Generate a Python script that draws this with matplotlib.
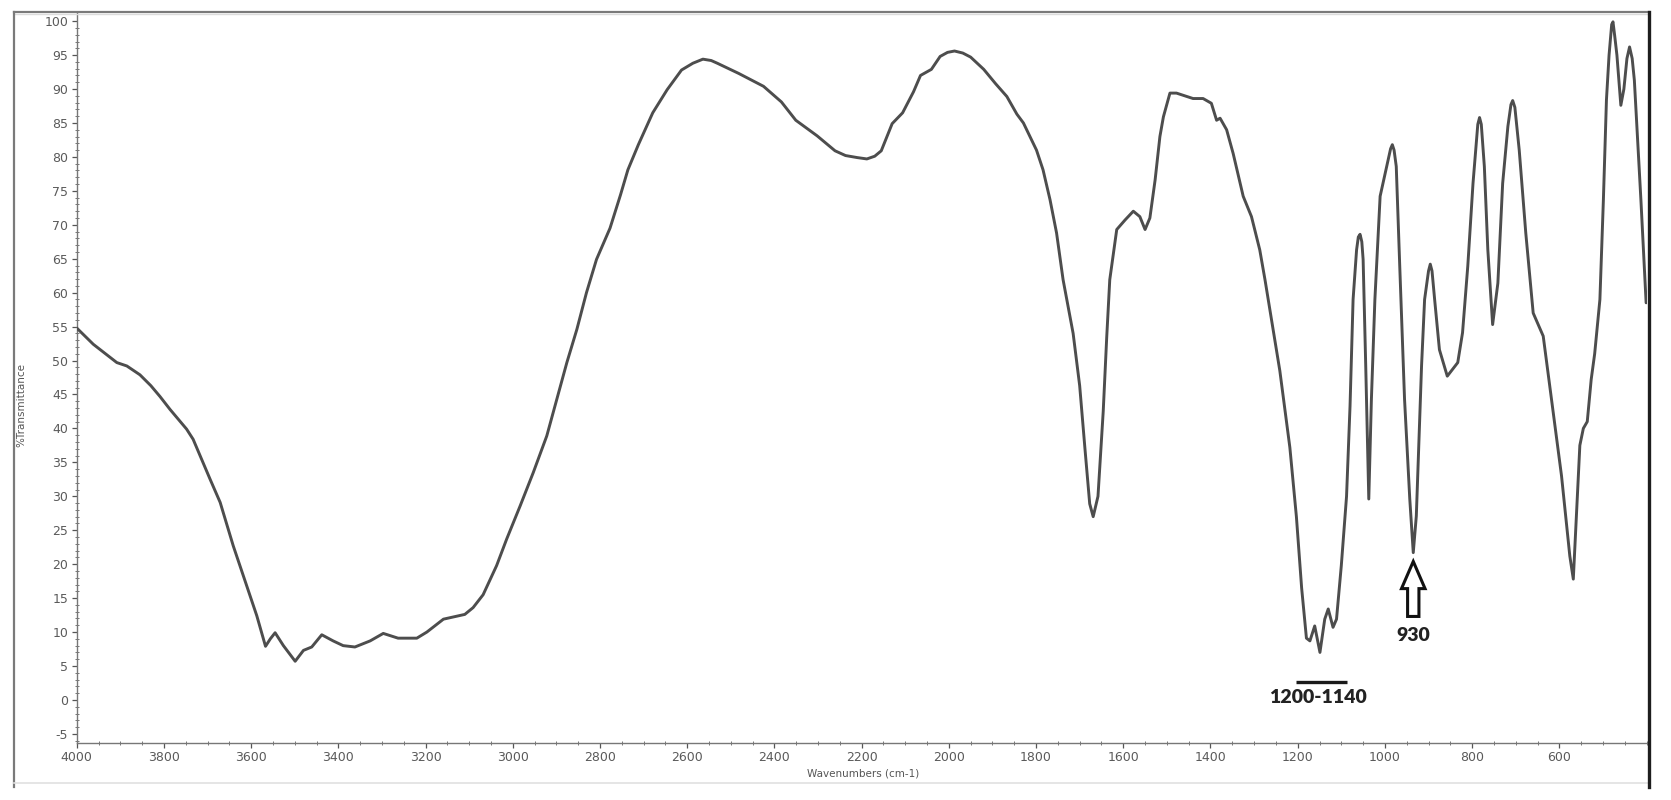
import numpy as np
import matplotlib
matplotlib.use("Agg")
import matplotlib.pyplot as plt
from matplotlib.patches import FancyArrow
from matplotlib.lines import Line2D
from matplotlib.ticker import MultipleLocator

# ---- data ----
wavenumber = [
    4000, 3962, 3908, 3885, 3855, 3830, 3809, 3786, 3748, 3733, 3694, 3671, 3641, 3610,
    3587, 3572, 3567, 3556, 3545, 3526, 3499, 3480, 3461, 3438, 3412, 3389, 3362, 3327, 3297,
    3263, 3220, 3197, 3159, 3110, 3091, 3068, 3037, 3014, 2983, 2953, 2922, 2899, 2876,
    2853, 2831, 2808, 2777, 2753, 2736, 2712, 2679, 2646, 2613, 2587, 2564, 2545, 2531, 2482, 2425,
    2384, 2351, 2302, 2261, 2237, 2210, 2188, 2170, 2155, 2130, 2106, 2081, 2065, 2040, 2020, 2003, 1987,
    1968, 1950, 1920, 1893, 1867, 1844, 1829, 1799, 1784, 1768, 1753, 1738, 1715, 1700, 1688, 1677,
    1669, 1658, 1646, 1638, 1631, 1615, 1596, 1577, 1562, 1550, 1539, 1527, 1516, 1508,
    1493, 1478, 1440, 1417, 1398, 1386, 1378, 1363, 1348, 1325, 1306, 1287, 1275, 1241,
    1218, 1203, 1191, 1180, 1172, 1161, 1149, 1138, 1130, 1119, 1111, 1100, 1088, 1080,
    1073, 1065, 1061, 1057, 1053, 1050, 1044, 1037, 1031, 1023, 1011, 996, 987, 983, 979, 974, 966, 955, 943,
    935, 928, 916, 909, 900, 896, 892, 886, 875, 857, 833, 822, 810, 798, 787, 783, 779, 772, 764, 753, 741,
    730, 718, 711, 707, 702, 692, 677, 660, 637, 614, 595, 576, 568, 561, 553, 545, 536, 527, 519,
    507, 499, 492, 486, 480, 477, 473, 468, 459, 452, 445, 439, 433, 428, 413, 401,
]
transmittance = [
    54.8, 52.4, 49.7, 49.2, 47.9, 46.3, 44.7, 42.8, 39.9, 38.4, 32.5, 29.1, 22.7, 16.8,
    12.4, 9.0, 7.9, 9.0, 9.9, 8.0, 5.7, 7.3, 7.8, 9.6, 8.7, 8.0, 7.8, 8.7, 9.8,
    9.1, 9.1, 10.0, 11.9, 12.6, 13.6, 15.5, 19.8, 23.7, 28.6, 33.5, 38.9, 44.3, 49.7,
    54.6, 60.0, 64.9, 69.5, 74.4, 78.1, 81.8, 86.5, 89.9, 92.8, 93.8, 94.4, 94.2, 93.8, 92.3, 90.4,
    88.1, 85.4, 83.1, 80.9, 80.2, 79.9, 79.7, 80.1, 80.9, 84.9, 86.5, 89.6, 92.0, 92.9, 94.8, 95.4, 95.6,
    95.3, 94.7, 92.9, 90.8, 88.9, 86.3, 85.0, 81.0, 78.1, 73.7, 68.8, 61.9, 54.0, 46.3, 37.1, 28.9,
    27.0, 30.0, 42.5, 53.4, 61.9, 69.3, 70.7, 72.0, 71.2, 69.3, 71.0, 76.6, 83.0, 85.9,
    89.4, 89.4, 88.6, 88.6, 87.9, 85.4, 85.7, 84.0, 80.5, 74.2, 71.2, 66.3, 61.9, 48.5,
    37.2, 27.0, 16.5, 9.1, 8.7, 10.9, 7.0, 11.9, 13.4, 10.7, 11.9, 19.8, 30.0, 43.3,
    59.0, 66.3, 68.2, 68.6, 67.5, 64.9, 49.2, 29.6, 44.3, 59.0, 74.2, 78.6, 81.2, 81.8, 81.0, 78.6, 63.9, 44.3, 29.6,
    21.7, 27.1, 49.2, 59.0, 63.2, 64.2, 63.2, 59.0, 51.6, 47.7, 49.7, 54.1, 63.9, 76.1, 84.8, 85.8, 84.8, 78.6, 66.3, 55.3, 61.4,
    76.1, 84.5, 87.7, 88.3, 87.3, 81.0, 68.8, 57.0, 53.6, 42.3, 33.0, 21.2, 17.8, 27.0, 37.5, 40.0, 41.0, 47.2, 51.0,
    59.0, 73.7, 88.4, 95.0, 99.5, 99.9, 97.8, 95.0, 87.6, 90.0, 94.5, 96.2, 94.5, 91.3, 73.7, 58.5,
]

x_major_ticks = list(range(4000, 599, -200))
y_major_ticks = list(range(-5, 101, 5))

band_label = "1200-1140"
band_range = (1205, 1087)
band_y = 2.6
band_text_pos = (1153, 0.3)

peak_label = "930"
peak_wn = 935
arrow_tip = 20.4
arrow_tail = 12.3
peak_text_pos = (935, 9.5)

# ---- figure ----
W, H, DPI = 1671, 800, 100
fig = plt.figure(figsize=(W / DPI, H / DPI), dpi=DPI)
fig.patch.set_facecolor("white")

ax_left, ax_right = 76.7, 1647.0
ax_top, ax_bot = 13.0, 742.7
ax = fig.add_axes([ax_left / W, 1 - ax_bot / H, (ax_right - ax_left) / W, (ax_bot - ax_top) / H])

ax.plot(wavenumber, transmittance, color="#4d4d4d", lw=2.1,
        solid_joinstyle="round", solid_capstyle="round", zorder=3)

ax.set_xlim(4000, 399)
ax.set_ylim(-6.3, 101.2)

tick_font = ["Liberation Sans Narrow", "DejaVu Sans"]
ax.set_xticks(x_major_ticks)
ax.set_xticklabels([str(t) for t in x_major_ticks])
ax.xaxis.set_minor_locator(MultipleLocator(50))
ax.set_yticks(y_major_ticks)
ax.set_yticklabels([str(t) for t in y_major_ticks])
ax.yaxis.set_minor_locator(MultipleLocator(1))

for lab in ax.get_xticklabels() + ax.get_yticklabels():
    lab.set_family(tick_font)
    lab.set_fontsize(9)
    lab.set_color("#5a5a5a")

ax.tick_params(axis="both", which="major", direction="out", length=3.5, width=0.9,
               color="#555555", pad=2.5)
ax.tick_params(axis="both", which="minor", direction="inout", length=2.5, width=0.7,
               color="#777777")

for s in ["top", "right"]:
    ax.spines[s].set_visible(False)
for s in ["left", "bottom"]:
    ax.spines[s].set_color("#777777")
    ax.spines[s].set_linewidth(1.0)

fig.text(21 / W, 1 - 405 / H, "%Transmittance", rotation=90, ha="center", va="center",
         fontsize=7.5, color="#555555", family=tick_font)
fig.text(863 / W, 1 - 774 / H, "Wavenumbers (cm-1)", ha="center", va="center",
         fontsize=7.5, color="#555555", family=tick_font)

# ---- annotations ----
ax.hlines(band_y, band_range[0], band_range[1], color="#1a1a1a", lw=2.4, zorder=4)
ax.text(band_text_pos[0], band_text_pos[1], band_label, ha="center", va="center",
        fontsize=14, fontweight="heavy", color="#222222", family=["Lato", "DejaVu Sans"])

arr = FancyArrow(peak_wn, arrow_tail, 0, arrow_tip - arrow_tail, width=26,
                 head_width=54, head_length=4.0, length_includes_head=True,
                 fc="white", ec="#111111", lw=2.2, zorder=4)
ax.add_patch(arr)
ax.text(peak_text_pos[0], peak_text_pos[1], peak_label, ha="center", va="center",
        fontsize=14, fontweight="heavy", color="#222222", family=["Lato", "DejaVu Sans"])

# ---- outer window frame ----
def fline(xs, ys, **kw):
    fig.add_artist(Line2D([x / W for x in xs], [1 - y / H for y in ys],
                          transform=fig.transFigure, **kw))

fline([14, 1649], [12, 12], color="#7a7a7a", lw=1.6)
fline([14, 1649], [14, 14], color="#dcdcdc", lw=1.0)
fline([14, 14], [12, 787], color="#7a7a7a", lw=1.6)
fline([14, 1649], [783, 783], color="#e0e0e0", lw=1.2)
fline([1649, 1649], [12, 787], color="#1e1e1e", lw=2.4)

fig.savefig("out.png", dpi=DPI, facecolor="white")
